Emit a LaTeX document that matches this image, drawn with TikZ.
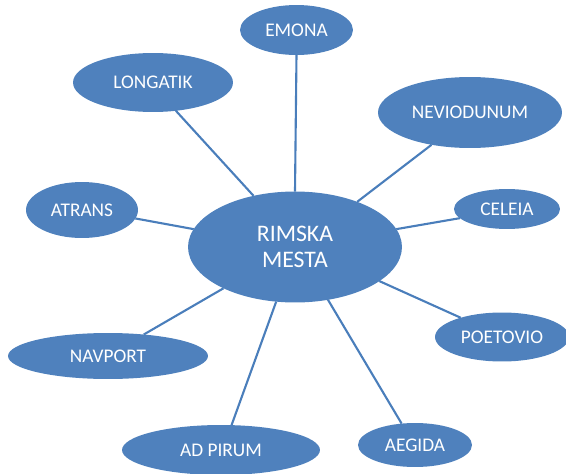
\documentclass[tikz,border=0pt]{standalone}
\usepackage{fontspec}
\setmainfont{Carlito}
\usetikzlibrary{shapes.geometric}

\definecolor{mestofill}{HTML}{4F81BD}
\definecolor{povezava}{HTML}{4A7EBB}

\tikzset{
  mesto/.style={ellipse, fill=mestofill, text=white, inner sep=0pt, outer sep=0pt, font=\fontsize{11}{13}\selectfont},
  glavno/.style={mesto, align=center, font=\fontsize{13.5}{15}\selectfont},
  cesta/.style={draw=povezava, line width=1.2pt}
}

\begin{document}
\begin{tikzpicture}[x=0.02cm, y=-0.02cm]

\useasboundingbox (0,0) rectangle (566,474);

% Sredisce
\node[glavno, minimum width=4.28cm, minimum height=2.22cm] at (295,247) (rim) {RIMSKA\\MESTA};

% Mesta okoli
\node[mesto, minimum width=2.26cm, minimum height=1.0cm] at (296.5,30) (emona) {EMONA};
\node[mesto, minimum width=3.2cm, minimum height=1.18cm] at (153,82.5) (longatik) {LONGATIK};
\node[mesto, minimum width=3.68cm, minimum height=1.42cm] at (470,112.5) (nevio) {NEVIODUNUM};
\node[mesto, minimum width=2.24cm, minimum height=1.12cm] at (82,210) (atrans) {ATRANS};
\node[mesto, minimum width=2.12cm, minimum height=0.8cm] at (507,209) (celeia) {CELEIA};
\node[mesto, minimum width=2.68cm, minimum height=0.98cm] at (502,337) (poetovio) {POETOVIO};
\node[mesto, minimum width=4.0cm, minimum height=0.92cm] at (108,356) (navport) {NAVPORT};
\node[mesto, minimum width=3.96cm, minimum height=1.0cm] at (221,450) (adpirum) {AD PIRUM};
\node[mesto, minimum width=2.28cm, minimum height=0.88cm] at (415,445) (aegida) {AEGIDA};

% Povezave
\draw[cesta] (rim.90) -- (emona.-90);
\draw[cesta] (rim.129.7) -- (longatik.-51.1);
\draw[cesta] (rim.36.7) -- (nevio.-140.5);
\draw[cesta] (rim.170.1) -- (atrans.-9.1);
\draw[cesta] (rim.10.4) -- (celeia.-169.8);
\draw[cesta] (rim.-22.9) -- (poetovio.155.6);
\draw[cesta] (rim.-150.1) -- (navport.31);
\draw[cesta] (rim.-109.7) -- (adpirum.67.8);
\draw[cesta] (rim.-58.3) -- (aegida.122.5);

\end{tikzpicture}
\end{document}
